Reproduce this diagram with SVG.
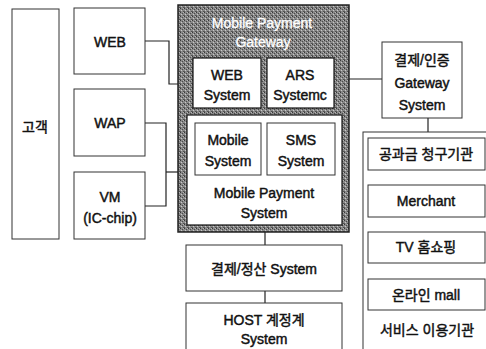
<svg xmlns="http://www.w3.org/2000/svg" width="486" height="349" viewBox="0 0 486 349">
<defs>
<pattern id="dither" width="4" height="4" patternUnits="userSpaceOnUse">
<rect width="4" height="4" fill="#8a8a8a"/>
<rect x="0" y="0" width="1" height="1" fill="#3a3a3a"/>
<rect x="2" y="1" width="1" height="1" fill="#4a4a4a"/>
<rect x="1" y="2" width="1" height="1" fill="#c8c8c8"/>
<rect x="3" y="3" width="1" height="1" fill="#505050"/>
<rect x="3" y="0" width="1" height="1" fill="#b5b5b5"/>
<rect x="0" y="3" width="1" height="1" fill="#5a5a5a"/>
</pattern>
</defs>
<style>
.box{fill:#fff;stroke:#333;stroke-width:1}
.solid{fill:#fff;stroke:#111;stroke-width:1.2}
.t{font-family:"Liberation Sans","Noto Sans CJK KR",sans-serif;font-size:14px;fill:#111;text-anchor:middle;stroke:#111;stroke-width:0.45}
.w{fill:#fff;stroke:#fff;stroke-width:0.3}
.c{fill:none;stroke:#222;stroke-width:1.2}
</style>
<g id="connectors">
<polyline class="c" points="145,41 169,41 169,84 178,84"/>
<polyline class="c" points="145,123 166,123 166,206 145,206"/>
<line class="c" x1="166" y1="172" x2="178" y2="172"/>
<line class="c" x1="349" y1="79" x2="382" y2="79"/>
<line class="c" x1="428" y1="118" x2="428" y2="132"/>
<line class="c" x1="265" y1="232" x2="265" y2="245"/>
<line class="c" x1="265" y1="291" x2="265" y2="303"/>
</g>
<g id="customer">
<rect class="box" x="12" y="9" width="47" height="230"/>
<text class="t" x="35" y="132">고객</text>
</g>
<g id="web">
<rect class="box" x="74" y="8" width="71" height="66"/>
<text class="t" x="110" y="47">WEB</text>
</g>
<g id="wap">
<rect class="box" x="74" y="89" width="71" height="67"/>
<text class="t" x="110" y="128">WAP</text>
</g>
<g id="vm">
<rect class="box" x="74" y="172" width="71" height="67"/>
<text class="t" x="110" y="202">VM</text>
<text class="t" x="110" y="223">(IC-chip)</text>
</g>
<g id="gateway">
<rect x="178" y="5" width="171" height="227" fill="url(#dither)" stroke="#222" stroke-width="1.5"/>
<text class="t w" x="262" y="28">Mobile Payment</text>
<text class="t w" x="263" y="47">Gateway</text>
</g>
<g id="web-system">
<rect class="solid" x="193" y="58" width="68" height="50"/>
<text class="t" x="227" y="80">WEB</text>
<text class="t" x="227" y="100">System</text>
</g>
<g id="ars-system">
<rect class="solid" x="267" y="58" width="67" height="50"/>
<text class="t" x="300" y="80">ARS</text>
<text class="t" x="300" y="100">Systemc</text>
</g>
<g id="mobile-payment-system">
<rect class="solid" x="187" y="115" width="155" height="110"/>
<text class="t" x="264" y="198">Mobile Payment</text>
<text class="t" x="264" y="218">System</text>
</g>
<g id="mobile-system">
<rect class="box" x="195" y="123" width="66" height="52"/>
<text class="t" x="228" y="145">Mobile</text>
<text class="t" x="228" y="166">System</text>
</g>
<g id="sms-system">
<rect class="box" x="267" y="123" width="68" height="52"/>
<text class="t" x="301" y="145">SMS</text>
<text class="t" x="301" y="166">System</text>
</g>
<g id="settlement">
<rect class="box" x="186" y="245" width="156" height="46"/>
<text class="t" x="264" y="274">결제/정산 System</text>
</g>
<g id="host">
<rect class="box" x="186" y="303" width="156" height="50"/>
<text class="t" x="264" y="325">HOST 계정계</text>
<text class="t" x="264" y="344">System</text>
</g>
<g id="pg-gateway">
<rect class="box" x="382" y="42" width="80" height="76"/>
<text class="t" x="422" y="65">결제/인증</text>
<text class="t" x="422" y="88">Gateway</text>
<text class="t" x="422" y="110">System</text>
</g>
<g id="service-org">
<rect class="box" x="363" y="132" width="130" height="225"/>
<text class="t" x="427" y="335">서비스 이용기관</text>
</g>
<g id="billing">
<rect class="box" x="368" y="138" width="117" height="32"/>
<text class="t" x="426" y="159">공과금 청구기관</text>
</g>
<g id="merchant">
<rect class="box" x="368" y="185" width="117" height="32"/>
<text class="t" x="426" y="206">Merchant</text>
</g>
<g id="tv-shopping">
<rect class="box" x="368" y="232" width="117" height="31"/>
<text class="t" x="426" y="252">TV 홈쇼핑</text>
</g>
<g id="online-mall">
<rect class="box" x="368" y="279" width="117" height="31"/>
<text class="t" x="426" y="300">온라인 mall</text>
</g>
</svg>
